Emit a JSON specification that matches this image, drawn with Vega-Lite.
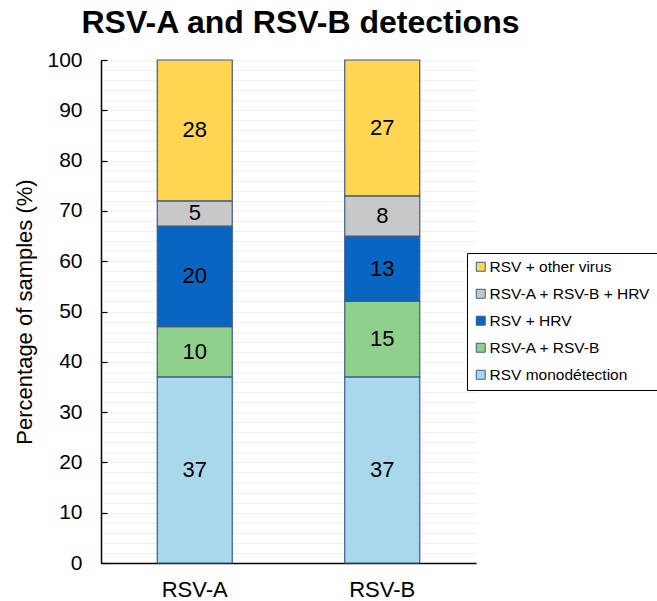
{
  "$schema": "https://vega.github.io/schema/vega-lite/v6.json",
  "autosize": "none",
  "width": 375,
  "height": 503,
  "padding": {"left": 101, "top": 60, "right": 181, "bottom": 38},
  "background": "white",
  "config": {
    "view": {"stroke": null},
    "font": "Liberation Sans"
  },
  "title": {
    "text": "RSV-A and RSV-B detections",
    "font": "Liberation Sans",
    "fontSize": 32,
    "fontWeight": "bold",
    "color": "black",
    "anchor": "middle",
    "frame": "group",
    "dx": 12,
    "dy": 40,
    "baseline": "alphabetic",
    "offset": 24
  },
  "data": {
    "values": [
      {"sample": "RSV-A", "type": "RSV monodétection", "ord": 1, "value": 37},
      {"sample": "RSV-A", "type": "RSV-A + RSV-B", "ord": 2, "value": 10},
      {"sample": "RSV-A", "type": "RSV + HRV", "ord": 3, "value": 20},
      {"sample": "RSV-A", "type": "RSV-A + RSV-B + HRV", "ord": 4, "value": 5},
      {"sample": "RSV-A", "type": "RSV + other virus", "ord": 5, "value": 28},
      {"sample": "RSV-B", "type": "RSV monodétection", "ord": 1, "value": 37},
      {"sample": "RSV-B", "type": "RSV-A + RSV-B", "ord": 2, "value": 15},
      {"sample": "RSV-B", "type": "RSV + HRV", "ord": 3, "value": 13},
      {"sample": "RSV-B", "type": "RSV-A + RSV-B + HRV", "ord": 4, "value": 8},
      {"sample": "RSV-B", "type": "RSV + other virus", "ord": 5, "value": 27}
    ]
  },
  "transform": [
    {"stack": "value", "groupby": ["sample"], "sort": [{"field": "ord", "order": "ascending"}], "as": ["y0", "y1"]},
    {"calculate": "(datum.y0 + datum.y1) / 2", "as": "mid"}
  ],
  "encoding": {
    "x": {
      "field": "sample",
      "type": "nominal",
      "scale": {"paddingInner": 0, "paddingOuter": 0},
      "axis": {
        "title": null,
        "labelAngle": 0,
        "labelFontSize": 22,
        "labelColor": "black",
        "labelPadding": 16,
        "ticks": false,
        "domainColor": "black",
        "domainWidth": 1.5,
        "grid": false
      }
    }
  },
  "layer": [
    {
      "mark": {"type": "bar", "size": 75, "stroke": "#3d5b86", "strokeWidth": 1.2},
      "encoding": {
        "y": {
          "field": "y0",
          "type": "quantitative",
          "scale": {"domain": [0, 100], "nice": false},
          "axis": {
            "title": "Percentage of samples (%)",
            "titleFontSize": 22,
            "titleFontWeight": "normal",
            "titleColor": "black",
            "titlePadding": 10,
            "values": [0,2,4,6,8,10,12,14,16,18,20,22,24,26,28,30,32,34,36,38,40,42,44,46,48,50,52,54,56,58,60,62,64,66,68,70,72,74,76,78,80,82,84,86,88,90,92,94,96,98,100],
            "labelExpr": "datum.value % 10 === 0 ? datum.label : ''",
            "labelOverlap": false,
            "labelBound": false,
            "labelFontSize": 21,
            "labelColor": "black",
            "labelPadding": 25,
            "tickColor": "black",
            "tickSize": -6,
            "tickWidth": 1.2,
            "tickOpacity": {"condition": {"test": "datum.value % 10 !== 0", "value": 0}, "value": 1},
            "domainColor": "black",
            "domainWidth": 1.5,
            "grid": true,
            "gridColor": "#dedede",
            "gridDash": [1, 1],
            "gridWidth": 1
          }
        },
        "y2": {"field": "y1"},
        "color": {
          "field": "type",
          "type": "nominal",
          "scale": {
            "domain": ["RSV + other virus", "RSV-A + RSV-B + HRV", "RSV + HRV", "RSV-A + RSV-B", "RSV monodétection"],
            "range": ["#FFD551", "#C8C8C8", "#0866C2", "#8FD08A", "#A9D7EB"]
          },
          "legend": {
            "title": null,
            "orient": "none",
            "legendX": 366,
            "legendY": 193,
            "strokeColor": "black",
            "fillColor": "white",
            "padding": 6,
            "symbolType": "square",
            "symbolSize": 80,
            "symbolStrokeColor": "#3d5b86",
            "symbolStrokeWidth": 1,
            "labelFontSize": 15.5,
            "labelColor": "black",
            "labelOffset": 1,
            "rowPadding": 10,
            "labelLimit": 300
          }
        }
      }
    },
    {
      "mark": {"type": "text", "fontSize": 22, "color": "black", "baseline": "middle"},
      "encoding": {
        "y": {
          "field": "mid",
          "type": "quantitative",
          "axis": {
            "title": "Percentage of samples (%)",
            "titleFontSize": 22,
            "titleFontWeight": "normal",
            "titleColor": "black",
            "titlePadding": 10,
            "values": [0,2,4,6,8,10,12,14,16,18,20,22,24,26,28,30,32,34,36,38,40,42,44,46,48,50,52,54,56,58,60,62,64,66,68,70,72,74,76,78,80,82,84,86,88,90,92,94,96,98,100],
            "labelExpr": "datum.value % 10 === 0 ? datum.label : ''",
            "labelOverlap": false,
            "labelBound": false,
            "labelFontSize": 21,
            "labelColor": "black",
            "labelPadding": 25,
            "tickColor": "black",
            "tickSize": -6,
            "tickWidth": 1.2,
            "tickOpacity": {"condition": {"test": "datum.value % 10 !== 0", "value": 0}, "value": 1},
            "domainColor": "black",
            "domainWidth": 1.5,
            "grid": true,
            "gridColor": "#dedede",
            "gridDash": [1, 1],
            "gridWidth": 1
          }
        },
        "text": {"field": "value", "type": "quantitative"}
      }
    }
  ]
}
